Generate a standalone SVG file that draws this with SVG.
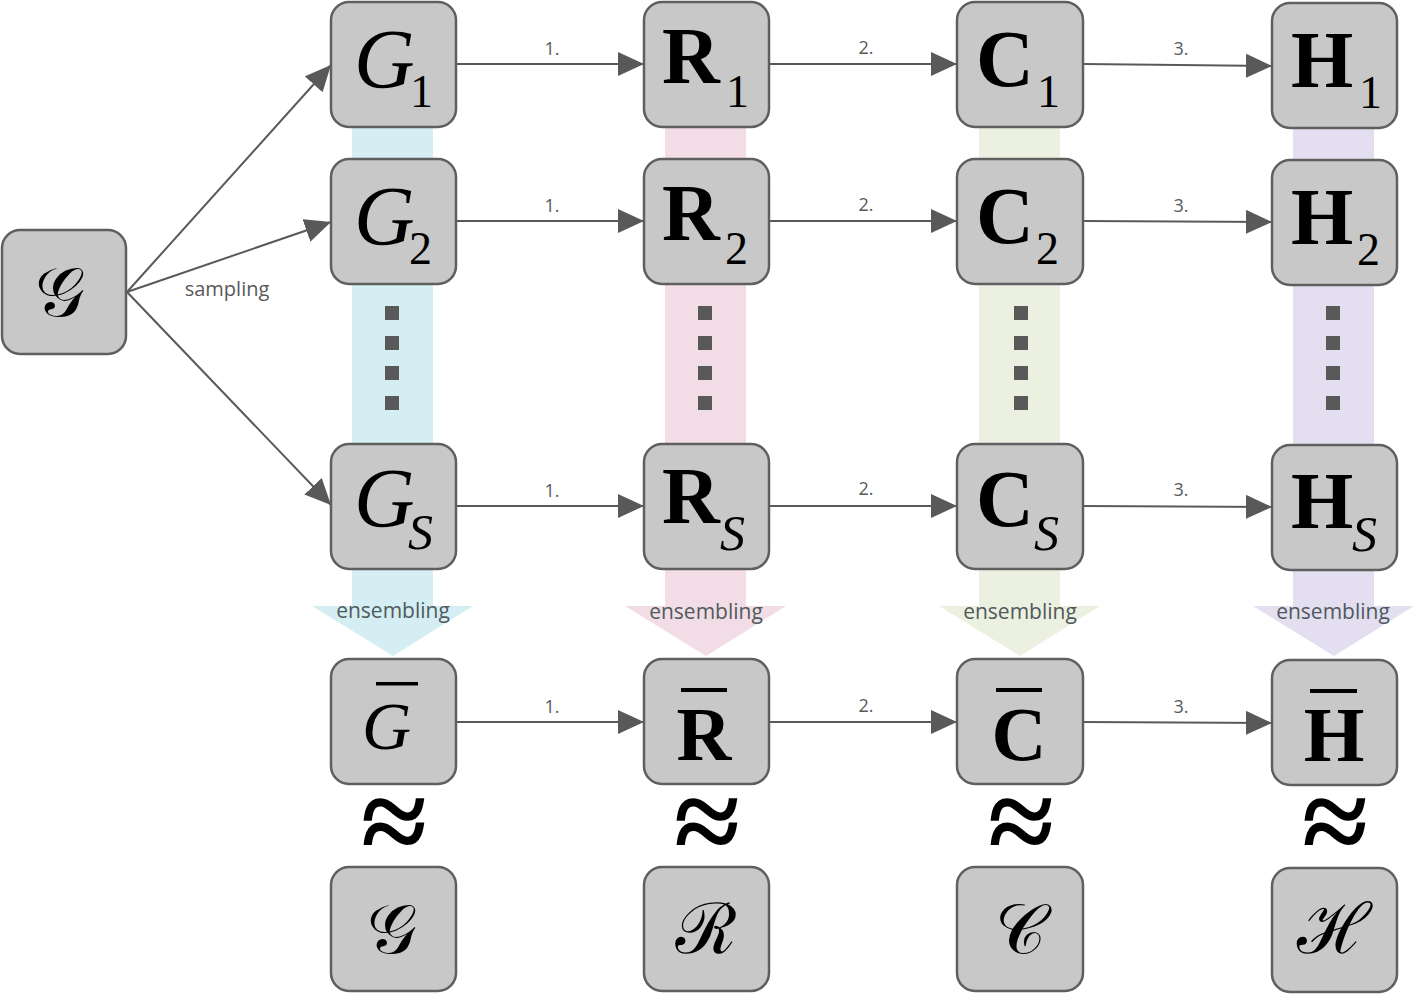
<svg xmlns="http://www.w3.org/2000/svg" width="1416" height="997" viewBox="0 0 1416 997">
<defs>
<marker id="ah" markerUnits="userSpaceOnUse" markerWidth="28" markerHeight="26" refX="26" refY="12" orient="auto" viewBox="0 0 28 26">
<path d="M0,0 L26,12 L0,24 Z" fill="#595959"/>
</marker>
</defs>
<style>
.box{fill:#c8c8c8;stroke:#5f5f5f;stroke-width:2.5}
.edge{stroke:#595959;stroke-width:2;fill:none;marker-end:url(#ah)}
.num{font-family:"Open Sans",sans-serif;font-size:18px;fill:#595959;text-anchor:middle}
.lbl{font-family:"Open Sans",sans-serif;font-size:20px;fill:#595959;text-anchor:middle}
.ens{font-family:"Open Sans",sans-serif;font-size:21px;fill:#4f5a5c;text-anchor:middle}
.mi{font-family:"Liberation Serif",serif;font-style:italic;font-size:84px;fill:#000}
.mb{font-family:"Liberation Serif",serif;font-weight:bold;font-size:80px;fill:#000}
.sub{font-family:"Liberation Serif",serif;font-size:46px;fill:#000}
.subi{font-family:"Liberation Serif",serif;font-style:italic;font-size:50px;fill:#000}
.cal{font-family:"DejaVu Serif","Noto Sans",serif;font-size:70px;fill:#000;text-anchor:middle}
.ap{font-family:"Liberation Serif",serif;font-weight:bold;font-size:120px;fill:#000;text-anchor:middle}
.dot{fill:#595959}
</style>
<g id="bands">
<rect x="352" y="127" width="81" height="479" fill="#d4eef3"/>
<polygon points="312,606 473,606 393,656" fill="#d4eef3"/>
<rect x="665" y="127" width="81" height="479" fill="#f2dde7"/>
<polygon points="625,606 786,606 706,656" fill="#f2dde7"/>
<rect x="979" y="127" width="81" height="479" fill="#ecf0e0"/>
<polygon points="939,606 1100,606 1020,656" fill="#ecf0e0"/>
<rect x="1293" y="127" width="81" height="479" fill="#e3def0"/>
<polygon points="1253,606 1414,606 1334,656" fill="#e3def0"/>
</g>
<g id="dots">
<rect class="dot" x="385" y="306" width="14" height="14"/><rect class="dot" x="385" y="336" width="14" height="14"/><rect class="dot" x="385" y="366" width="14" height="14"/><rect class="dot" x="385" y="396" width="14" height="14"/>
<rect class="dot" x="698" y="306" width="14" height="14"/><rect class="dot" x="698" y="336" width="14" height="14"/><rect class="dot" x="698" y="366" width="14" height="14"/><rect class="dot" x="698" y="396" width="14" height="14"/>
<rect class="dot" x="1014" y="306" width="14" height="14"/><rect class="dot" x="1014" y="336" width="14" height="14"/><rect class="dot" x="1014" y="366" width="14" height="14"/><rect class="dot" x="1014" y="396" width="14" height="14"/>
<rect class="dot" x="1326" y="306" width="14" height="14"/><rect class="dot" x="1326" y="336" width="14" height="14"/><rect class="dot" x="1326" y="366" width="14" height="14"/><rect class="dot" x="1326" y="396" width="14" height="14"/>
</g>
<g id="ensembling-labels">
<text class="ens" x="393" y="618">ensembling</text>
<text class="ens" x="706" y="619">ensembling</text>
<text class="ens" x="1020" y="619">ensembling</text>
<text class="ens" x="1333" y="619">ensembling</text>
</g>
<g id="connectors">
<line class="edge" x1="127" y1="292" x2="331" y2="65"/>
<line class="edge" x1="127" y1="292" x2="331" y2="222"/>
<line class="edge" x1="127" y1="292" x2="331" y2="505"/>
<text class="lbl" x="227" y="296">sampling</text>
<line class="edge" x1="457" y1="64" x2="644" y2="64"/>
<line class="edge" x1="770" y1="64" x2="957" y2="64"/>
<line class="edge" x1="1084" y1="64" x2="1272" y2="66"/>
<line class="edge" x1="457" y1="221" x2="644" y2="221"/>
<line class="edge" x1="770" y1="221" x2="957" y2="221"/>
<line class="edge" x1="1084" y1="221" x2="1272" y2="222"/>
<line class="edge" x1="457" y1="506" x2="644" y2="506"/>
<line class="edge" x1="770" y1="506" x2="957" y2="506"/>
<line class="edge" x1="1084" y1="506" x2="1272" y2="507"/>
<line class="edge" x1="457" y1="722" x2="644" y2="722"/>
<line class="edge" x1="770" y1="722" x2="957" y2="722"/>
<line class="edge" x1="1084" y1="722" x2="1272" y2="723"/>
<text class="num" x="552" y="55">1.</text><text class="num" x="866" y="54">2.</text><text class="num" x="1181" y="55">3.</text>
<text class="num" x="552" y="212">1.</text><text class="num" x="866" y="211">2.</text><text class="num" x="1181" y="212">3.</text>
<text class="num" x="552" y="497">1.</text><text class="num" x="866" y="495">2.</text><text class="num" x="1181" y="496">3.</text>
<text class="num" x="552" y="713">1.</text><text class="num" x="866" y="712">2.</text><text class="num" x="1181" y="713">3.</text>
</g>
<g id="node-G"><rect class="box" x="2" y="230" width="124" height="124" rx="18"/><text class="cal" x="60" y="316">𝒢</text></g>
<g id="node-G1"><rect class="box" x="331" y="2" width="125" height="125" rx="18"/><text class="mi" x="354" y="88">G</text><text class="sub" x="410" y="107">1</text></g>
<g id="node-R1"><rect class="box" x="644" y="2" width="125" height="125" rx="18"/><text class="mb" x="662" y="83">R</text><text class="sub" x="726" y="107">1</text></g>
<g id="node-C1"><rect class="box" x="957" y="2" width="126" height="125" rx="18"/><text class="mb" x="976" y="86">C</text><text class="sub" x="1037" y="107">1</text></g>
<g id="node-H1"><rect class="box" x="1272" y="3" width="125" height="125" rx="18"/><text class="mb" x="1291" y="87">H</text><text class="sub" x="1359" y="108">1</text></g>
<g id="node-G2"><rect class="box" x="331" y="159" width="125" height="125" rx="18"/><text class="mi" x="354" y="245">G</text><text class="sub" x="409" y="264">2</text></g>
<g id="node-R2"><rect class="box" x="644" y="159" width="125" height="125" rx="18"/><text class="mb" x="662" y="240">R</text><text class="sub" x="725" y="264">2</text></g>
<g id="node-C2"><rect class="box" x="957" y="159" width="126" height="125" rx="18"/><text class="mb" x="976" y="243">C</text><text class="sub" x="1036" y="264">2</text></g>
<g id="node-H2"><rect class="box" x="1272" y="160" width="125" height="125" rx="18"/><text class="mb" x="1291" y="244">H</text><text class="sub" x="1357" y="265">2</text></g>
<g id="node-GS"><rect class="box" x="331" y="444" width="125" height="125" rx="18"/><text class="mi" x="354" y="527">G</text><text class="subi" x="408" y="549">S</text></g>
<g id="node-RS"><rect class="box" x="644" y="444" width="125" height="125" rx="18"/><text class="mb" x="662" y="523">R</text><text class="subi" x="720" y="550">S</text></g>
<g id="node-CS"><rect class="box" x="957" y="444" width="126" height="125" rx="18"/><text class="mb" x="976" y="526">C</text><text class="subi" x="1034" y="550">S</text></g>
<g id="node-HS"><rect class="box" x="1272" y="445" width="125" height="125" rx="18"/><text class="mb" x="1291" y="528">H</text><text class="subi" x="1352" y="551">S</text></g>
<g id="node-Gbar"><rect class="box" x="331" y="659" width="125" height="125" rx="18"/><rect x="376" y="682" width="42" height="3.5" fill="#000"/><text class="mi" x="362" y="749" style="font-size:68px">G</text></g>
<g id="node-Rbar"><rect class="box" x="644" y="659" width="125" height="125" rx="18"/><rect x="681" y="688" width="46" height="4" fill="#000"/><text class="mb" x="704" y="760" style="font-size:76px;text-anchor:middle">R</text></g>
<g id="node-Cbar"><rect class="box" x="957" y="659" width="126" height="125" rx="18"/><rect x="996" y="688" width="46" height="4" fill="#000"/><text class="mb" x="1019" y="760" style="font-size:76px;text-anchor:middle">C</text></g>
<g id="node-Hbar"><rect class="box" x="1272" y="660" width="125" height="125" rx="18"/><rect x="1310" y="689" width="47" height="4" fill="#000"/><text class="mb" x="1334" y="761" style="font-size:78px;text-anchor:middle">H</text></g>
<g id="approx">
<text class="ap" x="394" y="862">≈</text>
<text class="ap" x="707" y="862">≈</text>
<text class="ap" x="1021" y="862">≈</text>
<text class="ap" x="1335" y="862">≈</text>
</g>
<g id="node-Gcal"><rect class="box" x="331" y="867" width="125" height="124" rx="18"/><text class="cal" x="392" y="953">𝒢</text></g>
<g id="node-Rcal"><rect class="box" x="644" y="867" width="125" height="124" rx="18"/><text class="cal" x="706" y="953">ℛ</text></g>
<g id="node-Ccal"><rect class="box" x="957" y="867" width="126" height="124" rx="18"/><text class="cal" x="1020" y="953">𝒞</text></g>
<g id="node-Hcal"><rect class="box" x="1272" y="868" width="125" height="124" rx="18"/><text class="cal" x="1334" y="953">ℋ</text></g>
</svg>
